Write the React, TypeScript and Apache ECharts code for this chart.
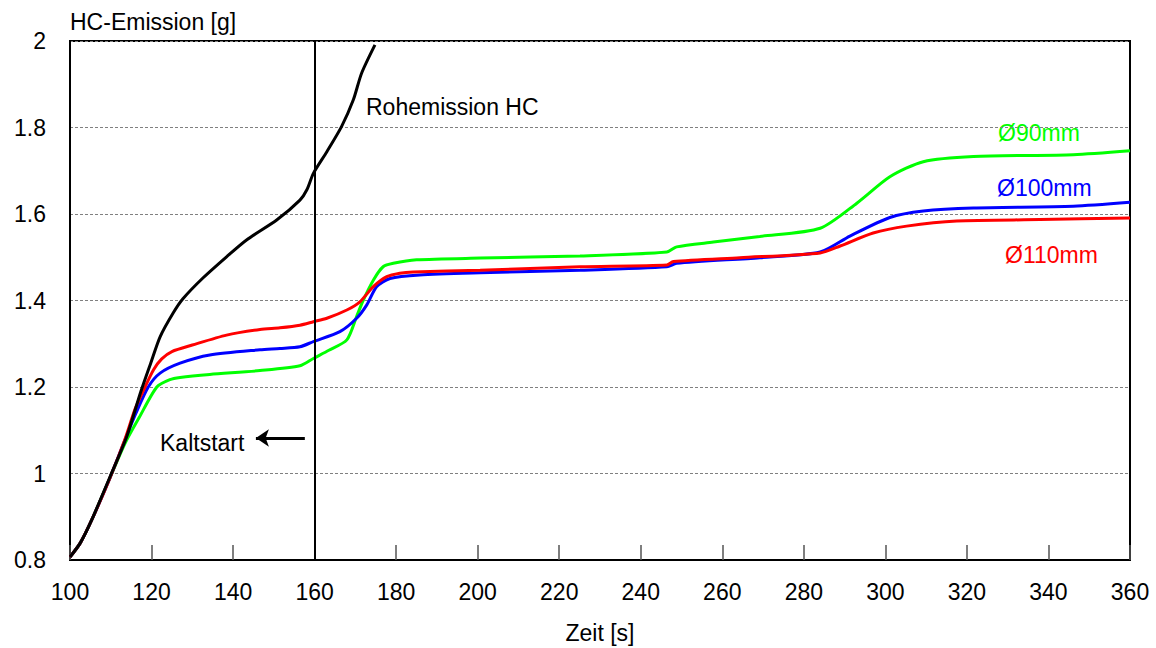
import React, { useEffect, useRef } from "react";
import * as echarts from "echarts";

// Rohemission HC (black)
const rawX = [100, 102.5, 105.3, 109.8, 113.9, 117.4, 119.8, 122.1, 125.3, 127.7, 132.6, 138.4, 143.3, 150.7, 156.4, 158.1, 159.7, 163.0, 166.6, 169.5, 171.5, 174.8];
const rawY = [0.807, 0.839, 0.892, 0.992, 1.085, 1.19, 1.255, 1.316, 1.371, 1.404, 1.452, 1.501, 1.54, 1.586, 1.632, 1.656, 1.694, 1.744, 1.802, 1.864, 1.925, 1.991];

// Ø110mm (red)
const redX = [100, 102.5, 105.3, 109.8, 113.5, 116.0, 118.4, 120.5, 122.5, 125.0, 130.0, 138.4, 146.6, 151.5, 156.4, 159.7, 163.0, 167.9, 171.1, 174.4, 177.7, 180.9, 184.2, 200.6, 225.1, 246.4, 248.0, 264.3, 284.0, 288.9, 297.0, 305.2, 317.5, 337.9, 360];
const redY = [0.807, 0.839, 0.892, 0.99, 1.08, 1.15, 1.2, 1.24, 1.265, 1.282, 1.297, 1.32, 1.333, 1.337, 1.343, 1.351, 1.359, 1.378, 1.397, 1.432, 1.455, 1.463, 1.466, 1.47, 1.478, 1.482, 1.49, 1.499, 1.51, 1.526, 1.556, 1.572, 1.584, 1.587, 1.591];

// Ø100mm (blue)
const blueX = [100, 102.5, 105.3, 109.8, 113.5, 116.2, 119.2, 122.1, 127.0, 134.3, 146.6, 151.5, 156.4, 159.7, 166.2, 170.3, 172.8, 175.2, 178.5, 185.8, 200.6, 225.1, 246.4, 248.8, 269.2, 284.0, 291.3, 301.1, 309.3, 321.6, 346.1, 360];
const blueY = [0.807, 0.839, 0.892, 0.99, 1.078, 1.14, 1.2, 1.232, 1.255, 1.274, 1.286, 1.289, 1.293, 1.305, 1.328, 1.359, 1.39, 1.432, 1.451, 1.459, 1.464, 1.47, 1.478, 1.486, 1.499, 1.512, 1.549, 1.592, 1.607, 1.614, 1.618, 1.627];

// Ø90mm (green)
const greenX = [100, 102.5, 105.3, 109.8, 113.5, 117.0, 121.3, 124.5, 127.0, 134.3, 146.6, 156.4, 159.7, 163.5, 167.9, 170.3, 171.9, 174.4, 176.8, 179.3, 185.0, 200.6, 225.1, 246.4, 248.8, 257.8, 269.2, 284.0, 293.0, 301.1, 309.3, 321.6, 346.1, 360];
const greenY = [0.807, 0.839, 0.892, 0.99, 1.07, 1.13, 1.2, 1.217, 1.222, 1.229, 1.238, 1.249, 1.266, 1.285, 1.309, 1.363, 1.4, 1.447, 1.478, 1.486, 1.494, 1.498, 1.503, 1.512, 1.524, 1.535, 1.548, 1.567, 1.625, 1.686, 1.721, 1.733, 1.737, 1.746];

const kaltstartLine = 160;
const arrowFrom: [number, number] = [157.6, 1.082];
const arrowTo: [number, number] = [145.6, 1.082];

const zip = (xs: number[], ys: number[]) => xs.map((x, i) => [x, ys[i]]);

const FONT = "'Liberation Sans', Arial, sans-serif";
const FS = 23;

export default function App() {
  const ref = useRef<HTMLDivElement>(null);
  useEffect(() => {
    if (!ref.current) return;
    const chart = echarts.init(ref.current, undefined, { renderer: "svg" });
    const lineSeries = (name: string, color: string, data: number[][], extra: any = {}) => ({
      name,
      type: "line",
      data,
      smooth: 0.25,
      showSymbol: false,
      symbol: "none",
      lineStyle: { color, width: 3 },
      itemStyle: { color },
      ...extra,
    });
    chart.setOption({
      animation: false,
      backgroundColor: "#fff",
      textStyle: { fontFamily: FONT },
      grid: {
        left: 70,
        right: 26,
        top: 41,
        bottom: 88,
        show: true,
        borderColor: "#000",
        borderWidth: 2,
        backgroundColor: "transparent",
      },
      xAxis: {
        type: "value",
        min: 100,
        max: 360,
        interval: 20,
        axisLine: { show: true, lineStyle: { color: "#000", width: 2 } },
        axisTick: { show: true, inside: true, length: 15, lineStyle: { color: "#555", width: 1.5 } },
        axisLabel: { color: "#000", fontSize: FS, fontFamily: FONT, margin: 20 },
        splitLine: { show: false },
      },
      yAxis: {
        type: "value",
        min: 0.8,
        max: 2,
        interval: 0.2,
        axisLine: { show: true, lineStyle: { color: "#000", width: 2 } },
        axisTick: { show: false },
        axisLabel: {
          color: "#000",
          fontSize: FS,
          fontFamily: FONT,
          margin: 24,
          formatter: (v: number) => String(parseFloat(v.toFixed(1))),
        },
        splitLine: { show: true, lineStyle: { color: "#808080", type: [3, 2], width: 1 } },
      },
      series: [
        lineSeries("Ø90mm", "#00ff00", zip(greenX, greenY)),
        lineSeries("Ø100mm", "#0000ff", zip(blueX, blueY)),
        lineSeries("Ø110mm", "#ff0000", zip(redX, redY), {
          markLine: {
            silent: true,
            animation: false,
            label: { show: false },
            symbol: ["none", "arrow"],
            symbolSize: 13,
            lineStyle: { color: "#000", width: 3, type: "solid" },
            data: [[{ coord: arrowFrom }, { coord: arrowTo }]],
          },
        }),
        lineSeries("Rohemission HC", "#000000", zip(rawX, rawY), {
          markLine: {
            silent: true,
            animation: false,
            label: { show: false },
            symbol: ["none", "none"],
            lineStyle: { color: "#000", width: 2, type: "solid" },
            data: [{ xAxis: kaltstartLine }],
          },
        }),
      ],
      graphic: [
        { type: "text", left: 70, top: 10, style: { text: "HC-Emission [g]", font: `${FS}px ${FONT}`, fill: "#000" } },
        { type: "text", x: 600, y: 633, style: { text: "Zeit [s]", font: `${FS}px ${FONT}`, fill: "#000", align: "center", verticalAlign: "middle" } },
        { type: "text", x: 366, y: 107, style: { text: "Rohemission HC", font: `${FS}px ${FONT}`, fill: "#000", verticalAlign: "middle" } },
        { type: "text", x: 160, y: 443, style: { text: "Kaltstart", font: `${FS}px ${FONT}`, fill: "#000", verticalAlign: "middle" } },
        { type: "text", x: 998, y: 133, style: { text: "Ø90mm", font: `${FS}px ${FONT}`, fill: "#00ff00", verticalAlign: "middle" } },
        { type: "text", x: 997, y: 188, style: { text: "Ø100mm", font: `${FS}px ${FONT}`, fill: "#0000ff", verticalAlign: "middle" } },
        { type: "text", x: 1005, y: 255, style: { text: "Ø110mm", font: `${FS}px ${FONT}`, fill: "#ff0000", verticalAlign: "middle" } },
      ],
    });
    return () => chart.dispose();
  }, []);
  return <div ref={ref} style={{ position: "fixed", left: 0, top: 0, width: 1156, height: 648 }} />;
}
